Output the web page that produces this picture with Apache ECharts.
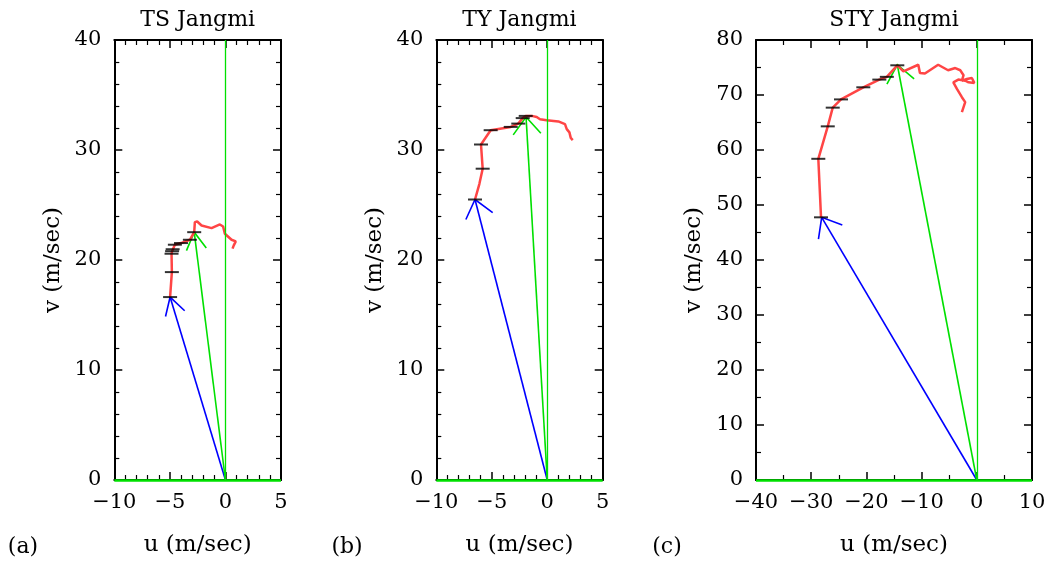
<!DOCTYPE html>
<html>
<head>
<meta charset="utf-8">
<script src="https://cdn.jsdelivr.net/npm/echarts@6/dist/echarts.min.js"></script>
<style>
html,body{margin:0;padding:0;background:#fff;}
#chart{width:1053px;height:562px;}
</style>
</head>
<body>
<div id="chart"></div>
<script>
// ---------------- data ----------------
const panelTitles = ['TS Jangmi', 'TY Jangmi', 'STY Jangmi'];
const panelTags = ['(a)', '(b)', '(c)'];
const xAxisName = 'u (m/sec)';
const yAxisName = 'v (m/sec)';

const xRangeA = [-10, 5],  yRangeA = [0, 40];
const xRangeB = [-10, 5],  yRangeB = [0, 40];
const xRangeC = [-40, 10], yRangeC = [0, 80];

// hodograph (u, v) in m/s
const hodoA = [[-4.98,16.63],[-4.82,18.90],[-4.85,20.57],[-4.80,20.80],[-4.75,20.98],[-4.55,21.39],[-4.00,21.54],[-3.20,21.84],[-2.81,22.53],[-2.75,23.44],[-2.54,23.50],[-2.15,23.14],[-1.25,22.90],[-0.50,23.23],[-0.21,23.05],[-0.05,22.39],[0.55,21.84],[0.93,21.69],[0.75,21.33],[0.64,21.03]];
const levelsA = [[-4.98,16.63],[-4.82,18.90],[-4.85,20.57],[-4.80,20.80],[-4.75,20.98],[-4.55,21.39],[-4.00,21.54],[-3.20,21.84],[-2.81,22.53]];
const lowWindA = [-4.98, 16.63];
const highWindA = [-2.81, 22.53];

const hodoB = [[-6.51,25.5],[-6.12,26.9],[-5.82,28.3],[-5.97,30.5],[-5.10,31.8],[-3.29,32.1],[-2.61,32.4],[-2.21,32.9],[-1.94,33.1],[-1.40,33.1],[-0.95,33.0],[-0.65,32.8],[-0.05,32.7],[1.00,32.6],[1.60,32.35],[1.76,31.9],[2.00,31.6],[2.12,31.1],[2.30,30.9]];
const levelsB = [[-6.51,25.5],[-5.82,28.3],[-5.97,30.5],[-5.10,31.8],[-3.29,32.1],[-2.61,32.4],[-2.21,32.9],[-1.94,33.1]];
const lowWindB = [-6.51, 25.5];
const highWindB = [-1.91, 33.0];

const hodoC = [[-28.22,47.76],[-28.71,58.4],[-27.0,64.3],[-26.1,67.7],[-24.6,69.2],[-20.56,71.4],[-17.66,72.8],[-16.3,73.3],[-14.4,75.4],[-13.3,74.3],[-10.6,75.5],[-10.3,74.0],[-9.4,73.9],[-7.0,75.5],[-5.2,74.5],[-3.9,74.9],[-3.0,74.5],[-2.4,73.6],[-2.7,72.6],[-1.8,72.9],[-0.9,73.1],[-0.45,72.2],[-1.5,72.3],[-2.1,72.6],[-3.35,72.8],[-4.25,72.3],[-3.6,71.1],[-2.7,69.6],[-2.1,68.7],[-2.7,66.9]];
const levelsC = [[-28.22,47.76],[-28.71,58.4],[-27.0,64.3],[-26.1,67.7],[-24.6,69.2],[-20.56,71.4],[-17.66,72.8],[-16.3,73.3],[-14.4,75.4]];
const lowWindC = [-28.1, 47.76];
const highWindC = [-14.4, 75.5];

// ---------------- layout / style ----------------
const SERIF = 'DejaVu Serif';
const grids = [
  {left: 114.3, top: 40, width: 166.7, height: 440},
  {left: 436.3, top: 40, width: 166.4, height: 440},
  {left: 756,   top: 40, width: 276,   height: 440}
];
const xInt = [5, 5, 10], xMinorSplit = [5, 5, 2];
const yInt = [10, 10, 10], yMinorSplit = [5, 5, 2];
const xRanges = [xRangeA, xRangeB, xRangeC];
const yRanges = [yRangeA, yRangeB, yRangeC];
const hodos = [hodoA, hodoB, hodoC];
const levels = [levelsA, levelsB, levelsC];
const lowWinds = [lowWindA, lowWindB, lowWindC];
const highWinds = [highWindA, highWindB, highWindC];
const barbAngle = [30, 39, 39];
const barbLen = [20, 22, 22];

const RED = '#ff4545', BLUE = '#0000ff', GREEN = '#00e000';

function fmt(v) { return v < 0 ? '\u2212' + (-v) : String(v); }

const xAxes = [], yAxes = [], series = [];
for (let i = 0; i < 3; i++) {
  const base = {
    type: 'value', gridIndex: i,
    splitLine: {show: false}, minorSplitLine: {show: false},
    axisLine: {show: true, onZero: false, lineStyle: {color: '#000', width: 2}},
    axisTick: {show: true, inside: true, length: 8, lineStyle: {color: '#000', width: 1.5}},
  };
  const xb = Object.assign({}, base, {
    min: xRanges[i][0], max: xRanges[i][1], interval: xInt[i],
    minorTick: {show: true, splitNumber: xMinorSplit[i], length: 5, lineStyle: {color: '#000', width: 1.2}}
  });
  xAxes.push(Object.assign({}, xb, {
    position: 'bottom',
    axisLabel: {show: true, formatter: fmt, fontFamily: SERIF, fontSize: 21, color: '#000', margin: 12},
    name: xAxisName, nameLocation: 'middle', nameGap: 54,
    nameTextStyle: {fontFamily: SERIF, fontSize: 23, color: '#000'}
  }));
  xAxes.push(Object.assign({}, xb, {position: 'top', axisLabel: {show: false}}));
  const yb = Object.assign({}, base, {
    min: yRanges[i][0], max: yRanges[i][1], interval: yInt[i],
    minorTick: {show: true, splitNumber: yMinorSplit[i], length: 5, lineStyle: {color: '#000', width: 1.2}}
  });
  yAxes.push(Object.assign({}, yb, {
    position: 'left',
    axisLabel: {show: true, formatter: fmt, fontFamily: SERIF, fontSize: 21, color: '#000', margin: 13},
    name: yAxisName, nameLocation: 'middle', nameGap: 50, nameRotate: 90,
    nameTextStyle: {fontFamily: SERIF, fontSize: 23, color: '#000'}
  }));
  yAxes.push(Object.assign({}, yb, {position: 'right', axisLabel: {show: false}}));

  const xi = i * 2, yi = i * 2;
  // reference lines u=0 and v=0
  series.push({
    type: 'line', xAxisIndex: xi, yAxisIndex: yi, data: [], z: 2, silent: true,
    color: GREEN, lineStyle: {color: GREEN},
    markLine: {
      silent: true, symbol: 'none', label: {show: false}, animation: false,
      lineStyle: {color: GREEN, width: 1.3, type: 'solid', opacity: 1},
      emphasis: {disabled: true},
      data: [
        {xAxis: 0},
        {yAxis: 0, lineStyle: {color: GREEN, width: 2.5, type: 'solid', opacity: 1}}
      ]
    }
  });
  // wind vectors from origin
  [[lowWinds[i], BLUE], [highWinds[i], GREEN]].forEach(([tip, color]) => {
    const ang = barbAngle[i] * Math.PI / 180, len = barbLen[i];
    series.push({
      type: 'custom', xAxisIndex: xi, yAxisIndex: yi, data: [tip], z: 3, silent: true,
      renderItem: function (params, api) {
        const p0 = api.coord([0, 0]);
        const p1 = api.coord([api.value(0), api.value(1)]);
        const a = Math.atan2(p0[1] - p1[1], p0[0] - p1[0]);
        const b1 = [p1[0] + len * Math.cos(a + ang), p1[1] + len * Math.sin(a + ang)];
        const b2 = [p1[0] + len * Math.cos(a - ang), p1[1] + len * Math.sin(a - ang)];
        return {
          type: 'group', children: [
            {type: 'line', shape: {x1: p0[0], y1: p0[1], x2: p1[0], y2: p1[1]}, style: {stroke: color, lineWidth: 1.6}},
            {type: 'polyline', shape: {points: [b1, p1, b2]}, style: {stroke: color, fill: null, lineWidth: 1.6}}
          ]
        };
      }
    });
  });
  // hodograph
  series.push({
    type: 'line', xAxisIndex: xi, yAxisIndex: yi, data: hodos[i], z: 4,
    showSymbol: false, symbol: 'none', smooth: false, silent: true,
    lineStyle: {color: RED, width: 2.5}
  });
  // level markers
  series.push({
    type: 'scatter', xAxisIndex: xi, yAxisIndex: yi, data: levels[i], z: 5, silent: true,
    symbol: 'rect', symbolSize: [14, 2], itemStyle: {color: '#000'}
  });
}

const centers = grids.map(g => g.left + g.width / 2);
const graphics = [];
panelTitles.forEach((t, i) => graphics.push({
  type: 'text', x: centers[i], y: 20,
  style: {text: t, fontFamily: SERIF, fontSize: 22, fill: '#000', align: 'center', verticalAlign: 'middle'}
}));
const tagX = [23, 347, 667];
panelTags.forEach((t, i) => graphics.push({
  type: 'text', x: tagX[i], y: 547,
  style: {text: t, fontFamily: SERIF, fontSize: 22, fill: '#000', align: 'center', verticalAlign: 'middle'}
}));

const chart = echarts.init(document.getElementById('chart'), null, {renderer: 'canvas'});
chart.setOption({
  animation: false,
  backgroundColor: '#fff',
  grid: grids,
  xAxis: xAxes,
  yAxis: yAxes,
  series: series,
  graphic: graphics
});
</script>
</body>
</html>
